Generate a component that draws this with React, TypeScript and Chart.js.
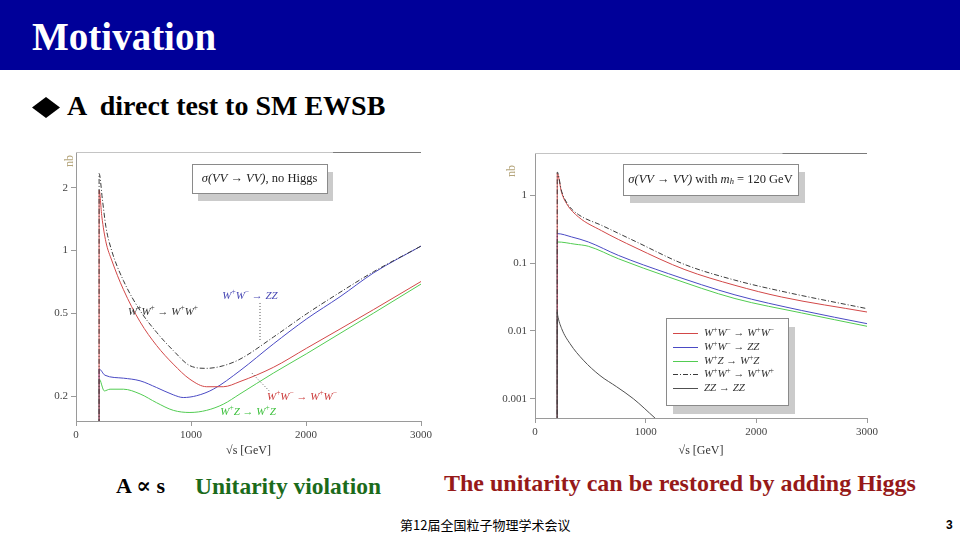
import React, { useEffect, useRef } from "react";
import { Chart, registerables } from "chart.js";

Chart.register(...registerables);

// ---------------- Left panel: sigma(VV -> VV), no Higgs (nb vs sqrt(s) GeV) ----------------
const nhWWtoWW_x = [200, 201, 225, 260, 310, 412, 557, 701, 846, 991, 1136, 1281, 1426, 1716, 2006, 2296, 2586, 3000];
const nhWWtoWW_y = [0.0001, 1.95, 1.45, 1.1, 0.9, 0.65, 0.455, 0.35, 0.285, 0.241, 0.222, 0.222, 0.235, 0.275, 0.34, 0.42, 0.52, 0.71];

const nhWWtoZZ_x = [200, 201, 252, 412, 557, 701, 846, 933, 1049, 1194, 1426, 1716, 2006, 2296, 2586, 3000];
const nhWWtoZZ_y = [0.0001, 0.27, 0.252, 0.244, 0.237, 0.22, 0.203, 0.197, 0.201, 0.216, 0.265, 0.356, 0.47, 0.6, 0.78, 1.05];

const nhWZtoWZ_x = [200, 201, 246, 296, 412, 557, 701, 846, 991, 1136, 1281, 1426, 1716, 2006, 2296, 2586, 3000];
const nhWZtoWZ_y = [0.0001, 0.242, 0.212, 0.216, 0.216, 0.205, 0.186, 0.171, 0.167, 0.171, 0.183, 0.205, 0.258, 0.32, 0.4, 0.5, 0.69];

const nhWpWptoWpWp_x = [200, 201, 230, 260, 310, 412, 557, 701, 846, 991, 1136, 1281, 1426, 1716, 2006, 2296, 2586, 3000];
const nhWpWptoWpWp_y = [0.0001, 2.34, 1.75, 1.3, 1.0, 0.718, 0.515, 0.405, 0.331, 0.28, 0.272, 0.28, 0.301, 0.384, 0.497, 0.63, 0.79, 1.05];

// ---------------- Right panel: sigma(VV -> VV) with m_h = 120 GeV ----------------
const hWWtoWW_x = [200, 201, 240, 286, 392, 602, 904, 1355, 1807, 2229, 3000];
const hWWtoWW_y = [0.00001, 2.09, 1.1, 0.75, 0.48, 0.3, 0.17, 0.08, 0.047, 0.0316, 0.019];

const hWWtoZZ_x = [200, 201, 331, 482, 753, 1205, 1807, 2410, 3000];
const hWWtoZZ_y = [0.00001, 0.272, 0.243, 0.205, 0.13, 0.07, 0.034, 0.02, 0.0128];

const hWZtoWZ_x = [200, 201, 361, 482, 753, 1205, 1807, 2410, 3000];
const hWZtoWZ_y = [0.00001, 0.205, 0.19, 0.177, 0.116, 0.0625, 0.03, 0.0184, 0.0117];

const hWpWptoWpWp_x = [200, 201, 240, 301, 392, 602, 904, 1355, 1807, 2259, 3000];
const hWpWptoWpWp_y = [0.00001, 2.2, 1.15, 0.72, 0.52, 0.36, 0.21, 0.095, 0.056, 0.0375, 0.0213];

const hZZtoZZ_x = [200, 201, 205, 241, 316, 437, 587, 738, 889, 1084, 1250];
const hZZtoZZ_y = [0.00001, 0.019, 0.017, 0.0108, 0.0065, 0.0037, 0.0022, 0.0015, 0.001, 0.00052, 0.0003];

// ---------------- Axes ----------------
const xTickValues = [0, 1000, 2000, 3000];
const leftYTicks = [0.2, 0.5, 1, 2];
const rightYTicks = [0.001, 0.01, 0.1, 1];
const leftYRange = [0.152, 2.97];
const rightYRange = [0.00052, 4.2];

const seriesNames = ["W⁺W⁻ → W⁺W⁻", "W⁺W⁻ → ZZ", "W⁺Z → W⁺Z", "W⁺W⁺ → W⁺W⁺", "ZZ → ZZ"];

const RED = "#d24848";
const BLUE = "#4a4ac4";
const GREEN = "#52cc52";
const DASH = "#3a3a3a";
const ZZC = "#505050";
const seriesColors = [RED, BLUE, GREEN, DASH, ZZC];
const DASH_PATTERN = [5, 2, 1, 2];

const SERIF = '"Liberation Serif", "DejaVu Serif", serif';

const zip = (xs: number[], ys: number[]) => xs.map((x, i) => ({ x, y: ys[i] }));

type Part = { t: string; it: boolean; sup?: boolean; sub?: boolean };

function toParts(s: string, italic: boolean): Part[] {
  const parts: Part[] = [];
  let buf = "";
  const flush = () => {
    if (buf) {
      parts.push({ t: buf, it: italic });
      buf = "";
    }
  };
  for (const ch of s) {
    if (ch === "⁺") {
      flush();
      parts.push({ t: "+", it: false, sup: true });
    } else if (ch === "⁻") {
      flush();
      parts.push({ t: "−", it: false, sup: true });
    } else if (ch === "ₕ") {
      flush();
      parts.push({ t: "h", it: true, sub: true });
    } else buf += ch;
  }
  flush();
  return parts;
}

function fontFor(p: Part, size: number) {
  const s = p.sup || p.sub ? size * 0.68 : size;
  return `${p.it ? "italic " : ""}${s}px ${SERIF}`;
}

function measureParts(ctx: CanvasRenderingContext2D, parts: Part[], size: number) {
  let w = 0;
  for (const p of parts) {
    ctx.font = fontFor(p, size);
    w += ctx.measureText(p.t).width;
  }
  return w;
}

function drawParts(
  ctx: CanvasRenderingContext2D,
  parts: Part[],
  x: number,
  y: number,
  size: number,
  color: string,
  align: "left" | "center"
) {
  const w = measureParts(ctx, parts, size);
  let cx = align === "center" ? x - w / 2 : x;
  ctx.fillStyle = color;
  ctx.textAlign = "left";
  ctx.textBaseline = "middle";
  for (const p of parts) {
    ctx.font = fontFor(p, size);
    const dy = p.sup ? -size * 0.36 : p.sub ? size * 0.22 : 0;
    ctx.fillText(p.t, cx, y + dy);
    cx += ctx.measureText(p.t).width;
  }
}

type Box = { dx: number; dy: number; w: number; h: number; sx: number; sy: number };

function drawShadowBox(ctx: CanvasRenderingContext2D, ax: number, ay: number, b: Box) {
  ctx.fillStyle = "#cbcbcb";
  ctx.fillRect(ax + b.dx + b.sx, ay + b.dy + b.sy, b.w, b.h);
  ctx.fillStyle = "#ffffff";
  ctx.fillRect(ax + b.dx, ay + b.dy, b.w, b.h);
  ctx.strokeStyle = "#8a8a8a";
  ctx.lineWidth = 1;
  ctx.strokeRect(Math.round(ax + b.dx) + 0.5, Math.round(ay + b.dy) + 0.5, b.w, b.h);
}

type Deco = {
  nb: { dx: number; dy: number };
  title: { box: Box; parts: Part[] };
  labels: { text: string; x: number; y: number; color: string }[];
  leaders: { x1: number; y1: number; x2: number; y2: number }[];
  legend?: { box: Box; top: number; step: number; names: string[]; colors: string[]; dashed: number[] };
};

function makeDeco(cfg: Deco) {
  return {
    id: "deco",
    afterDatasetsDraw(chart: any) {
      const { ctx, chartArea: a, scales } = chart;
      const xs = scales.x;
      const ys = scales.y;
      ctx.save();
      // top frame line
      ctx.fillStyle = "#c4c4c4";
      ctx.fillRect(a.left, a.top, a.width * 0.745, 1);
      ctx.fillStyle = "#7a7a7a";
      ctx.fillRect(a.left + a.width * 0.745, a.top, a.width * 0.255, 1);

      // "nb" unit label
      ctx.save();
      ctx.translate(a.left + cfg.nb.dx, a.top + cfg.nb.dy);
      ctx.rotate(-Math.PI / 2);
      ctx.font = `12px ${SERIF}`;
      ctx.fillStyle = "#b4a47a";
      ctx.textAlign = "center";
      ctx.textBaseline = "middle";
      ctx.fillText("nb", 0, 0);
      ctx.restore();

      // leader lines
      ctx.save();
      ctx.setLineDash([1, 2]);
      ctx.strokeStyle = "#555";
      ctx.lineWidth = 1;
      for (const l of cfg.leaders) {
        ctx.beginPath();
        ctx.moveTo(xs.getPixelForValue(l.x1), ys.getPixelForValue(l.y1));
        ctx.lineTo(xs.getPixelForValue(l.x2), ys.getPixelForValue(l.y2));
        ctx.stroke();
      }
      ctx.restore();

      // curve labels
      for (const lb of cfg.labels) {
        drawParts(ctx, toParts(lb.text, true), xs.getPixelForValue(lb.x), ys.getPixelForValue(lb.y), 11, lb.color, "center");
      }

      // title box
      const tb = cfg.title.box;
      drawShadowBox(ctx, a.left, a.top, tb);
      drawParts(ctx, cfg.title.parts, a.left + tb.dx + tb.w / 2, a.top + tb.dy + tb.h / 2, 12.5, "#222", "center");

      // legend
      if (cfg.legend) {
        const lg = cfg.legend;
        drawShadowBox(ctx, a.left, a.top, lg.box);
        for (let i = 0; i < lg.names.length; i++) {
          const y = Math.round(a.top + lg.box.dy + lg.top + i * lg.step);
          const x0 = Math.round(a.left + lg.box.dx + 7);
          ctx.fillStyle = lg.colors[i];
          if (lg.dashed.indexOf(i) >= 0) {
            let x = x0;
            let k = 0;
            while (x < x0 + 25) {
              const seg = DASH_PATTERN[k % DASH_PATTERN.length];
              if (k % 2 === 0) ctx.fillRect(x, y, Math.min(seg, x0 + 25 - x), 1);
              x += seg;
              k++;
            }
          } else {
            ctx.fillRect(x0, y, 25, 1);
          }
          drawParts(ctx, toParts(lg.names[i], true), x0 + 31, y + 0.5, 11, "#333", "left");
        }
      }
      ctx.restore();
    },
  };
}

function lineDs(label: string, xs: number[], ys: number[], color: string, dash?: number[], order = 1) {
  return {
    label,
    data: zip(xs, ys),
    borderColor: color,
    backgroundColor: color,
    borderWidth: 1,
    borderDash: dash || [],
    pointRadius: 0,
    fill: false,
    order,
    cubicInterpolationMode: "monotone" as const,
  };
}

function makeConfig(
  datasets: any[],
  yTicks: number[],
  yRange: number[],
  yWidth: number,
  xHeight: number,
  padding: any,
  deco: Deco
) {
  const tickFont = { family: SERIF, size: 11 };
  return {
    type: "line" as const,
    data: { datasets },
    plugins: [makeDeco(deco)],
    options: {
      animation: false as const,
      responsive: false,
      devicePixelRatio: 1,
      layout: { padding },
      plugins: { legend: { display: false }, tooltip: { enabled: false } },
      scales: {
        x: {
          type: "linear" as const,
          min: 0,
          max: 3000,
          afterBuildTicks: (s: any) => {
            s.ticks = xTickValues.map((v) => ({ value: v }));
          },
          afterFit: (s: any) => {
            s.height = xHeight;
          },
          ticks: { font: tickFont, color: "#444", padding: 3, maxRotation: 0, callback: (v: any) => String(v) },
          grid: { drawOnChartArea: false, drawTicks: true, tickLength: 5, color: "#9a9a9a" },
          border: { color: "#9a9a9a" },
          title: { display: true, text: "√s [GeV]", font: { family: SERIF, size: 12 }, color: "#333", padding: { top: 0, bottom: 2 } },
        },
        y: {
          type: "logarithmic" as const,
          min: yRange[0],
          max: yRange[1],
          afterBuildTicks: (s: any) => {
            s.ticks = yTicks.map((v) => ({ value: v }));
          },
          afterFit: (s: any) => {
            s.width = yWidth;
          },
          ticks: { font: tickFont, color: "#444", padding: 3, callback: (v: any) => String(v) },
          grid: { drawOnChartArea: false, drawTicks: true, tickLength: 5, color: "#9a9a9a" },
          border: { color: "#9a9a9a" },
        },
      },
    },
  };
}

function ChartBox({ config, left, top }: { config: any; left: number; top: number }) {
  const ref = useRef<HTMLCanvasElement | null>(null);
  useEffect(() => {
    if (!ref.current) return;
    const chart = new Chart(ref.current, config);
    return () => chart.destroy();
  }, [config]);
  return (
    <div style={{ position: "absolute", left, top, width: 400, height: 320 }}>
      <canvas ref={ref} width={400} height={320} style={{ display: "block", width: 400, height: 320 }} />
    </div>
  );
}

const leftConfig = makeConfig(
  [
    lineDs(seriesNames[0], nhWWtoWW_x, nhWWtoWW_y, RED),
    lineDs(seriesNames[1], nhWWtoZZ_x, nhWWtoZZ_y, BLUE),
    lineDs(seriesNames[2], nhWZtoWZ_x, nhWZtoWZ_y, GREEN),
    lineDs(seriesNames[3], nhWpWptoWpWp_x, nhWpWptoWpWp_y, DASH, DASH_PATTERN, 0),
  ],
  leftYTicks,
  leftYRange,
  36,
  39,
  { left: 0, top: 12, right: 19, bottom: 0 },
  {
    nb: { dx: -6, dy: 9 },
    title: {
      box: { dx: 116, dy: 12, w: 135, h: 29, sx: 6, sy: 8 },
      parts: [...toParts("σ(VV → VV)", true), ...toParts(", no Higgs", false)],
    },
    labels: [
      { text: "W⁺W⁻ → ZZ", x: 1513, y: 0.605, color: "#4848b4" },
      { text: "W⁺W⁺ → W⁺W⁺", x: 757, y: 0.507, color: "#333" },
      { text: "W⁺W⁻ → W⁺W⁻", x: 1965, y: 0.198, color: "#cc3c3c" },
      { text: "W⁺Z → W⁺Z", x: 1496, y: 0.168, color: "#3cc03c" },
    ],
    leaders: [
      { x1: 1600, y1: 0.56, x2: 1600, y2: 0.372 },
      { x1: 1530, y1: 0.258, x2: 1687, y2: 0.21 },
    ],
  }
);

const rightConfig = makeConfig(
  [
    lineDs(seriesNames[0], hWWtoWW_x, hWWtoWW_y, RED),
    lineDs(seriesNames[1], hWWtoZZ_x, hWWtoZZ_y, BLUE),
    lineDs(seriesNames[2], hWZtoWZ_x, hWZtoWZ_y, GREEN),
    lineDs(seriesNames[3], hWpWptoWpWp_x, hWpWptoWpWp_y, DASH, DASH_PATTERN, 0),
    lineDs(seriesNames[4], hZZtoZZ_x, hZZtoZZ_y, ZZC, [], 0),
  ],
  rightYTicks,
  rightYRange,
  45,
  42,
  { left: 0, top: 13, right: 23, bottom: 0 },
  {
    nb: { dx: -23, dy: 18 },
    title: {
      box: { dx: 88, dy: 11, w: 175, h: 31, sx: 7, sy: 8 },
      parts: [
        ...toParts("σ(VV → VV)", true),
        ...toParts(" with ", false),
        ...toParts("mₕ", true),
        ...toParts(" = 120 GeV", false),
      ],
    },
    labels: [],
    leaders: [],
    legend: {
      box: { dx: 131, dy: 165, w: 122, h: 87, sx: 7, sy: 9 },
      top: 15,
      step: 13.8,
      names: seriesNames,
      colors: seriesColors,
      dashed: [3],
    },
  }
);

export default function App() {
  return (
    <div
      style={{
        position: "fixed",
        left: 0,
        top: 0,
        width: 960,
        height: 540,
        background: "#ffffff",
        overflow: "hidden",
        fontFamily: SERIF,
      }}
    >
      <div style={{ position: "absolute", left: 0, top: 0, width: 960, height: 70, background: "#000099" }} />
      <div
        style={{
          position: "absolute",
          left: 32,
          top: 17,
          fontSize: 39,
          lineHeight: "39px",
          fontWeight: "bold",
          color: "#ffffff",
          whiteSpace: "nowrap",
        }}
      >
        Motivation
      </div>

      <div
        style={{
          position: "absolute",
          left: 32,
          top: 97,
          width: 28,
          height: 21,
          background: "#000",
          clipPath: "polygon(50% 0, 100% 50%, 50% 100%, 0 50%)",
        }}
      />
      <div
        style={{
          position: "absolute",
          left: 67,
          top: 92,
          fontSize: 28,
          lineHeight: "28px",
          fontWeight: "bold",
          color: "#000",
          whiteSpace: "pre",
        }}
      >
        {"A  direct test to SM EWSB"}
      </div>

      <ChartBox config={leftConfig} left={40} top={140} />
      <ChartBox config={rightConfig} left={490} top={140} />

      <div
        style={{
          position: "absolute",
          left: 116,
          top: 475,
          fontSize: 22,
          lineHeight: "22px",
          fontWeight: "bold",
          color: "#000",
          whiteSpace: "pre",
        }}
      >
        {"A ∝ s"}
      </div>
      <div
        style={{
          position: "absolute",
          left: 195,
          top: 474,
          fontSize: 23.5,
          lineHeight: "24px",
          fontWeight: "bold",
          color: "#1b6b1b",
          whiteSpace: "nowrap",
        }}
      >
        Unitarity violation
      </div>
      <div
        style={{
          position: "absolute",
          left: 444,
          top: 471,
          fontSize: 24,
          lineHeight: "24px",
          fontWeight: "bold",
          color: "#961919",
          whiteSpace: "nowrap",
        }}
      >
        The unitarity can be restored by adding Higgs
      </div>
      <div
        style={{
          position: "absolute",
          left: 400,
          top: 517,
          fontSize: 13,
          lineHeight: "16px",
          fontFamily: '"Noto Sans CJK SC", sans-serif',
          color: "#000",
          whiteSpace: "nowrap",
        }}
      >
        第12届全国粒子物理学术会议
      </div>
      <div
        style={{
          position: "absolute",
          left: 946,
          top: 517,
          fontSize: 12,
          lineHeight: "16px",
          fontFamily: '"Liberation Sans", sans-serif',
          fontWeight: "bold",
          color: "#000",
        }}
      >
        3
      </div>
    </div>
  );
}
